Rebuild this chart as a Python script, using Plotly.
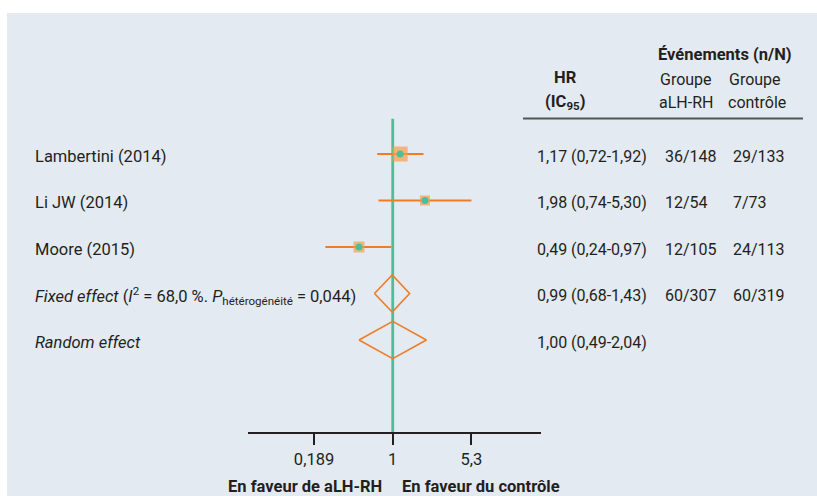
import math
import plotly.graph_objects as go

# ---- data ----
studies = ["Lambertini (2014)", "Li JW (2014)", "Moore (2015)"]
hr = [1.17, 1.98, 0.49]
ci_low = [0.72, 0.74, 0.24]
ci_high = [1.92, 5.30, 0.97]
events_alhrh = ["36/148", "12/54", "12/105", "60/307"]
events_ctrl = ["29/133", "7/73", "24/113", "60/319"]

pooled_labels = [
    "<i>Fixed effect</i> (<i>I</i><sup>2</sup> = 68,0 %. <i>P</i><sub>hétérogénéité</sub> = 0,044)",
    "<i>Random effect</i>",
]
pooled_hr = [0.99, 1.00]
pooled_low = [0.68, 0.49]
pooled_high = [1.43, 2.04]

tick_vals = [0.189, 1, 5.3]
tick_text = ["0,189", "1", "5,3"]


def fmt(v):
    return f"{v:.2f}".replace(".", ",")


hr_text = [f"{fmt(h)} ({fmt(l)}-{fmt(u)})" for h, l, u in
           zip(hr + pooled_hr, ci_low + pooled_low, ci_high + pooled_high)]

# ---- style ----
W, H = 817, 496
FONT = "Roboto, Liberation Sans, sans-serif"
FS = 16.5
FSN = 16
ORANGE = "#f07c28"
BOX = "#f89c48"
GREEN = "#4dbf98"
PANEL = "#e3eaf1"
TXT = "#231f20"
box_sizes = [15, 10, 11]

fig = go.Figure()

n_st = len(studies)
rows = list(range(n_st))

# CI lines
for i in rows:
    fig.add_trace(go.Scatter(x=[ci_low[i], ci_high[i]], y=[i, i], mode="lines",
                             line=dict(color=ORANGE, width=1.8), hoverinfo="skip",
                             showlegend=False))
# boxes
fig.add_trace(go.Scatter(x=hr, y=rows, mode="markers",
                         marker=dict(symbol="square", size=box_sizes, color=BOX,
                                     line=dict(width=0)), showlegend=False))
# green dots
fig.add_trace(go.Scatter(x=hr, y=rows, mode="markers",
                         marker=dict(symbol="circle", size=7, color=GREEN,
                                     line=dict(width=0)), showlegend=False))
# diamonds
hh = 0.40
for k in range(len(pooled_hr)):
    r = n_st + k
    fig.add_trace(go.Scatter(
        x=[pooled_low[k], pooled_hr[k], pooled_high[k], pooled_hr[k], pooled_low[k]],
        y=[r, r - hh, r, r + hh, r], mode="lines",
        line=dict(color=ORANGE, width=1.6), showlegend=False, hoverinfo="skip"))

shapes = [
    dict(type="rect", xref="paper", yref="paper", x0=7 / W, x1=1, y0=0, y1=1 - 13 / H,
         fillcolor=PANEL, line=dict(width=0), layer="below"),
    dict(type="line", xref="x", yref="y", x0=1, x1=1, y0=-0.76, y1=6.0,
         line=dict(color=GREEN, width=2.8), layer="below"),
    dict(type="line", xref="paper", yref="paper", x0=523 / W, x1=803 / W,
         y0=1 - 118.5 / H, y1=1 - 118.5 / H, line=dict(color="#555555", width=2)),
]

ann = []
font = dict(family=FONT, size=FS, color=TXT)
fontn = dict(family=FONT, size=FSN, color=TXT)
labels = studies + pooled_labels
for i, lab in enumerate(labels):
    ann.append(dict(x=33 / W, xref="paper", y=i, yref="y", text=lab, showarrow=False,
                    xanchor="left", yanchor="middle", font=font, yshift=-2))
    ann.append(dict(x=535 / W, xref="paper", y=i, yref="y", text=hr_text[i], showarrow=False,
                    xanchor="left", yanchor="middle", font=fontn, yshift=-2))
for i in range(len(events_alhrh)):
    ann.append(dict(x=663 / W, xref="paper", y=i, yref="y", text=events_alhrh[i],
                    showarrow=False, xanchor="left", yanchor="middle", font=fontn, yshift=-2))
    ann.append(dict(x=731 / W, xref="paper", y=i, yref="y", text=events_ctrl[i],
                    showarrow=False, xanchor="left", yanchor="middle", font=fontn, yshift=-2))


def hdr(x, y, text, bold=False, anchor="center", size=FS):
    ann.append(dict(x=x / W, y=1 - y / H, xref="paper", yref="paper", text=text,
                    showarrow=False, xanchor=anchor, yanchor="middle",
                    font=dict(family=FONT, size=size, color=TXT,
                              weight="bold" if bold else "normal")))


hdr(565, 78, "HR", bold=True)
hdr(565, 102, "(IC<sub>95</sub>)", bold=True)
hdr(725, 55, "Événements (n/N)", bold=True)
hdr(686, 80, "Groupe", size=FSN)
hdr(686, 103, "aLH-RH", size=FSN)
hdr(755, 80, "Groupe", size=FSN)
hdr(757, 103, "contrôle", size=FSN)
hdr(384, 486, "En faveur de aLH-RH", bold=True, anchor="right")
hdr(400, 486, "En faveur du contrôle", bold=True, anchor="left")

fig.update_layout(
    width=W, height=H, margin=dict(l=0, r=0, t=0, b=0),
    paper_bgcolor="white", plot_bgcolor="rgba(0,0,0,0)",
    shapes=shapes, annotations=ann, showlegend=False,
    xaxis=dict(type="log", range=[-1.331, 1.364], domain=[248 / W, 541 / W],
               tickvals=tick_vals, ticktext=tick_text, showgrid=False, zeroline=False,
               showline=True, linecolor="#231f20", linewidth=1.5,
               ticks="outside", ticklen=11, tickwidth=1.5, tickcolor="#231f20",
               tickfont=dict(family=FONT, size=FS, color=TXT),
               anchor="free", position=1 - 433.3 / H, fixedrange=True),
    yaxis=dict(range=[(H - 154) / 46.5, -154 / 46.5], domain=[0, 1], visible=False,
               fixedrange=True),
)

fig.write_html("out.html", config={"displayModeBar": False},
               post_script="document.body.style.margin='0';document.body.style.overflow='hidden';")
